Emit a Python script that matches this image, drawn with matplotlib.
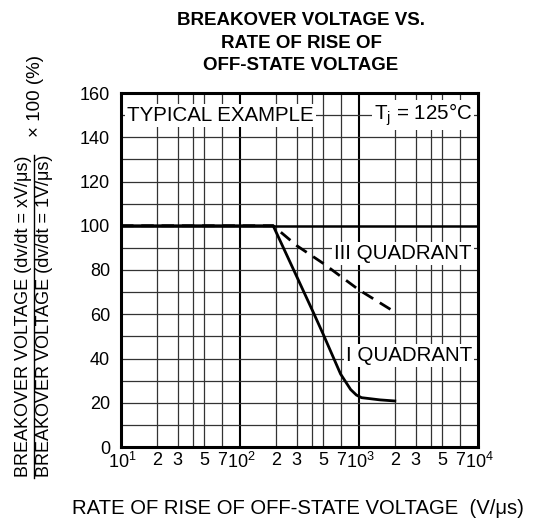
import numpy as np
import matplotlib
matplotlib.use("Agg")
import matplotlib.pyplot as plt
import matplotlib.transforms as mtransforms
from matplotlib.ticker import FixedLocator, NullFormatter

plt.rcParams['font.family'] = ['Liberation Sans', 'DejaVu Sans']
plt.rcParams['mathtext.fontset'] = 'custom'
plt.rcParams['mathtext.rm'] = 'Liberation Sans'
plt.rcParams['mathtext.it'] = 'Liberation Sans'

# ---- data ----
quad3_x = [10, 100, 190, 300, 500, 1000, 2000]
quad3_y = [100, 100, 100, 91, 83, 71, 61]
quad1_x = [10, 100, 190, 300, 420, 500, 700, 850, 950, 1050, 1500, 2000]
quad1_y = [100, 100, 100, 77, 60, 51, 33, 26, 23.5, 22.3, 21.3, 20.8]

x_tick_vals = [10, 20, 30, 50, 70, 100, 200, 300, 500, 700, 1000, 2000, 3000, 5000, 7000, 10000]
x_tick_labels = [r'$\mathregular{10^1}$', '2', '3', '5', '7', r'$\mathregular{10^2}$', '2', '3', '5', '7',
                 r'$\mathregular{10^3}$', '2', '3', '5', '7', r'$\mathregular{10^4}$']
y_tick_vals = [0, 20, 40, 60, 80, 100, 120, 140, 160]

title = "BREAKOVER VOLTAGE VS.\nRATE OF RISE OF\nOFF-STATE VOLTAGE"
xlabel = "RATE OF RISE OF OFF-STATE VOLTAGE  (V/μs)"
ylabel_num = "BREAKOVER VOLTAGE (dv/dt = xV/μs)"
ylabel_den = "BREAKOVER VOLTAGE (dv/dt = 1V/μs)"
ylabel_mult = "× 100 (%)"

fig = plt.figure(figsize=(5.33, 5.22), dpi=100)
ax = fig.add_axes([121/533, 1-447/522, (478-121)/533, (447-93)/522])
ax.set_xscale('log')
ax.set_xlim(10, 10000)
ax.set_ylim(0, 160)

# grid
minor_grid = []
for d in [10, 100, 1000]:
    for m in [2, 3, 4, 5, 7]:
        minor_grid.append(d*m)
for xv in minor_grid:
    ax.axvline(xv, color='#333333', lw=0.9, zorder=1)
for xv in [100, 1000]:
    ax.axvline(xv, color='black', lw=1.5, zorder=1)
for yv in range(10, 160, 10):
    ax.axhline(yv, color='black' if yv == 100 else '#333333',
               lw=1.8 if yv == 100 else 0.9, zorder=1)

# curves
ax.plot(quad3_x, quad3_y, color='black', lw=2.0, ls=(0, (4.5, 2.8)), zorder=3)
ax.plot(quad1_x, quad1_y, color='black', lw=2.0, zorder=3)

# axes styling
for s in ax.spines.values():
    s.set_linewidth(2.2)
ax.xaxis.set_major_locator(FixedLocator(x_tick_vals))
ax.xaxis.set_major_formatter(NullFormatter())
ax.xaxis.set_minor_formatter(NullFormatter())
ax.xaxis.set_minor_locator(FixedLocator([]))
ax.set_yticks(y_tick_vals)
ax.tick_params(axis='both', length=0, labelsize=13, pad=8)

# x tick labels drawn as text so that "10" sits centred on its decade line
base = ax.get_xaxis_transform()
for xv, lab in zip(x_tick_vals, x_tick_labels):
    if lab.startswith('$'):
        tr = mtransforms.offset_copy(base, fig=fig, x=-13, y=-5, units='dots')
        ax.text(xv, 0, lab, transform=tr, ha='left', va='top', fontsize=13)
    else:
        tr = mtransforms.offset_copy(base, fig=fig, x=0, y=-5, units='dots')
        ax.text(xv, 0, lab, transform=tr, ha='center', va='top', fontsize=13)

bbox = dict(facecolor='white', edgecolor='none', pad=1.5)
ax.text(11.3, 150, "TYPICAL EXAMPLE", fontsize=14.8, va='center', ha='left', bbox=bbox, zorder=4)
ax.text(8900, 150, r"T$_\mathregular{j}$ = 125°C", fontsize=14.8, va='center', ha='right', bbox=bbox, zorder=4)
ax.text(8900, 87.5, "III QUADRANT", fontsize=14.8, va='center', ha='right', bbox=bbox, zorder=4)
ax.text(8900, 41.5, "I QUADRANT", fontsize=14.8, va='center', ha='right', bbox=bbox, zorder=4)

fig.text(301/533, 1-43/522, title, fontsize=13.5, fontweight='bold', ha='center', va='center',
         linespacing=1.4)
fig.text(298/533, 1-508/522, xlabel, fontsize=14.6, ha='center', va='center')

# y label as fraction
yc = 1-316/522
fig.text(24/533, yc, ylabel_num, fontsize=13, rotation=90, ha='center', va='center')
fig.text(45/533, yc, ylabel_den, fontsize=13, rotation=90, ha='center', va='center')
fig.add_artist(plt.Line2D([34/533, 34/533], [1-478/522, 1-155/522], color='black', lw=1.0))
fig.text(36/533, 1-96/522, ylabel_mult, fontsize=13.5, rotation=90, ha='center', va='center')

fig.savefig('out.png', dpi=100)
